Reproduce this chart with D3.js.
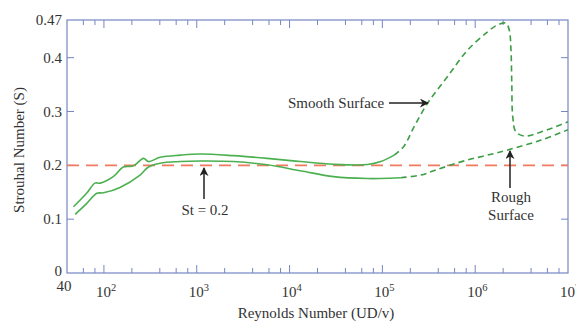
<!DOCTYPE html>
<html>
<head>
<meta charset="utf-8">
<script src="https://cdn.jsdelivr.net/npm/d3@7"></script>
<style>
  body { margin: 0; background: #fff; }
  svg text { font-family: "Liberation Serif", "DejaVu Serif", serif; fill: #333; }
</style>
</head>
<body>
<svg id="chart" width="576" height="323"></svg>
<script>
// upper band (solid), then smooth-surface continuation (dashed)
const upperRe = [47, 65, 80, 91, 126, 162, 208, 267, 302, 404, 664, 1090, 2480, 5740, 13100, 29800, 69000, 96000, 134000];
const upperSt = [0.123, 0.148, 0.167, 0.167, 0.179, 0.197, 0.199, 0.213, 0.207, 0.215, 0.219, 0.221, 0.218, 0.213, 0.207, 0.202, 0.2015, 0.207, 0.219];
const smoothRe = [134000, 170000, 220000, 306000, 504000, 828000, 1.36e6, 1.75e6, 2.15e6, 2.33e6, 2.43e6, 2.48e6, 2.54e6, 2.75e6, 3.39e6, 5.13e6, 1e7];
const smoothSt = [0.219, 0.235, 0.272, 0.315, 0.365, 0.414, 0.448, 0.461, 0.464, 0.451, 0.414, 0.352, 0.29, 0.262, 0.2545, 0.262, 0.281];

// lower band (solid), then rough-surface continuation (dashed)
const lowerRe = [49, 65, 84, 99, 149, 245, 302, 404, 664, 1090, 2480, 5740, 13100, 29800, 69000, 120000, 158000];
const lowerSt = [0.109, 0.129, 0.148, 0.149, 0.159, 0.182, 0.197, 0.204, 0.207, 0.208, 0.207, 0.201, 0.19, 0.179, 0.1755, 0.176, 0.177];
const roughRe = [158000, 260000, 358000, 520000, 828000, 1.36e6, 2.24e6, 5.13e6, 1e7];
const roughSt = [0.177, 0.182, 0.19, 0.1994, 0.21, 0.219, 0.2285, 0.247, 0.266];

const stRef = 0.2;

const yTicks = [0, 0.1, 0.2, 0.3, 0.4, 0.47];
const yTickLabels = ["0", "0.1", "0.2", "0.3", "0.4", "0.47"];
const decades = [100, 1e3, 1e4, 1e5, 1e6, 1e7];
const decadeExp = ["2", "3", "4", "5", "6", "7"];

const svg = d3.select("#chart");
const mLeft = 67, mRight = 568, mTop = 20, mBottom = 273;
const axisColor = "#7686c4";

const x = d3.scaleLog().domain([40, 1e7]).range([mLeft, mRight]);
const y = d3.scaleLinear().domain([0, 0.47]).range([mBottom, mTop]);

// minor ticks at 2,4,6,8 of every decade
let minor = [];
[10, 100, 1e3, 1e4, 1e5, 1e6].forEach(d => {
    [2, 4, 6, 8].forEach(m => { if (d * m > 40 && d * m < 1e7) minor.push(d * m); });
});

// frame
svg.append("rect")
    .attr("x", mLeft).attr("y", mTop)
    .attr("width", mRight - mLeft).attr("height", mBottom - mTop)
    .attr("fill", "none").attr("stroke", axisColor).attr("stroke-width", 1.2);

// x ticks, bottom and top, pointing inward
function xTicks(vals, len) {
    svg.selectAll(null).data(vals).enter().append("line")
        .attr("x1", d => x(d)).attr("x2", d => x(d))
        .attr("y1", mBottom).attr("y2", mBottom - len)
        .attr("stroke", axisColor).attr("stroke-width", 1);
    svg.selectAll(null).data(vals).enter().append("line")
        .attr("x1", d => x(d)).attr("x2", d => x(d))
        .attr("y1", mTop).attr("y2", mTop + len)
        .attr("stroke", axisColor).attr("stroke-width", 1);
}
xTicks(minor, 5);
xTicks(decades.slice(0, 5), 8);

// y ticks left and right
const yInner = yTicks.filter(d => d > 0 && d < 0.47);
svg.selectAll(null).data(yInner).enter().append("line")
    .attr("x1", mLeft).attr("x2", mLeft + 7)
    .attr("y1", d => y(d)).attr("y2", d => y(d))
    .attr("stroke", axisColor);
svg.selectAll(null).data(yInner).enter().append("line")
    .attr("x1", mRight).attr("x2", mRight - 7)
    .attr("y1", d => y(d)).attr("y2", d => y(d))
    .attr("stroke", axisColor);

// y tick labels
svg.selectAll(null).data(yTicks).enter().append("text")
    .attr("x", mLeft - 5)
    .attr("y", (d, i) => y(d) + (i === 0 ? 3 : 5))
    .attr("text-anchor", "end")
    .attr("font-size", 15)
    .text((d, i) => yTickLabels[i]);

// x tick labels
svg.append("text").attr("x", 64).attr("y", 291)
    .attr("text-anchor", "middle").attr("font-size", 15).text("40");
decades.forEach((d, i) => {
    const t = svg.append("text").attr("x", x(d) - 8).attr("y", 297).attr("font-size", 15);
    t.append("tspan").text("10");
    t.append("tspan").attr("dy", -6).attr("font-size", 10.5).text(decadeExp[i]);
});

// axis titles
svg.append("text").attr("x", 316).attr("y", 318)
    .attr("text-anchor", "middle").attr("font-size", 15)
    .text("Reynolds Number (UD/v)");
svg.append("text")
    .attr("transform", "translate(24,150) rotate(-90)")
    .attr("text-anchor", "middle").attr("font-size", 15)
    .text("Strouhal Number (S)");

// St = 0.2 reference line
svg.append("line")
    .attr("x1", mLeft).attr("x2", mRight)
    .attr("y1", y(stRef)).attr("y2", y(stRef))
    .attr("stroke", "#ef7a5e").attr("stroke-width", 1.6)
    .attr("stroke-dasharray", "12,7");

const line = d3.line()
    .x(d => x(d[0])).y(d => y(d[1]))
    .curve(d3.curveCatmullRom.alpha(0.5));

function drawCurve(re, st, dashed) {
    const pts = re.map((r, i) => [r, st[i]]);
    svg.append("path")
        .attr("d", line(pts))
        .attr("fill", "none")
        .attr("stroke", dashed ? "#3d9d45" : "#4cb050")
        .attr("stroke-width", 1.6)
        .attr("stroke-dasharray", dashed ? "6,4" : null);
}
drawCurve(upperRe, upperSt, false);
drawCurve(lowerRe, lowerSt, false);
drawCurve(smoothRe, smoothSt, true);
drawCurve(roughRe, roughSt, true);

// arrows
svg.append("defs").append("marker")
    .attr("id", "arr").attr("viewBox", "0 0 10 10")
    .attr("refX", 9).attr("refY", 5)
    .attr("markerWidth", 9).attr("markerHeight", 9)
    .attr("markerUnits", "userSpaceOnUse")
    .attr("orient", "auto")
    .append("path").attr("d", "M0,0 L10,5 L0,10 L3,5 Z").attr("fill", "#222");

function arrow(x1, y1, x2, y2) {
    svg.append("line")
        .attr("x1", x1).attr("y1", y1).attr("x2", x2).attr("y2", y2)
        .attr("stroke", "#222").attr("stroke-width", 1.5)
        .attr("marker-end", "url(#arr)");
}

svg.append("text").attr("x", 205).attr("y", 215)
    .attr("text-anchor", "middle").attr("font-size", 15).text("St = 0.2");
arrow(204, 199, 204, 168);

svg.append("text").attr("x", 336).attr("y", 108)
    .attr("text-anchor", "middle").attr("font-size", 15).text("Smooth Surface");
arrow(389, 103, 428, 103);

svg.append("text").attr("x", 511).attr("y", 202)
    .attr("text-anchor", "middle").attr("font-size", 15).text("Rough");
svg.append("text").attr("x", 511).attr("y", 220)
    .attr("text-anchor", "middle").attr("font-size", 15).text("Surface");
arrow(510, 188, 510, 151);
</script>
</body>
</html>
